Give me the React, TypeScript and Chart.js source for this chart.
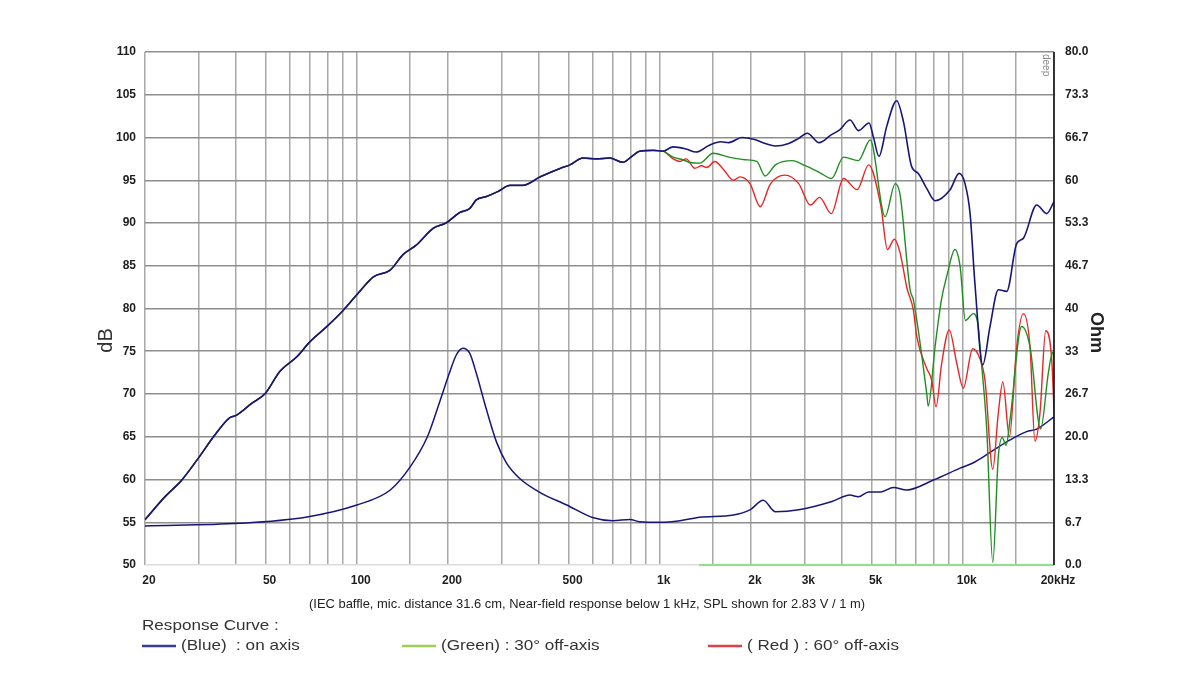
import { useEffect, useRef } from 'react';
import { Chart, registerables } from 'chart.js';

Chart.register(...registerables);

type Pt = [number, number];

// Below 1 kHz the three SPL curves coincide (near-field response)
const sharedLowSpl: Pt[] = [
  [20, 55.3], [23.3, 58.0], [26.4, 59.9], [30, 62.5], [34, 65.2], [38, 67.2], [40, 67.5],
  [45, 68.9], [50, 70.1], [55.6, 72.6], [63.6, 74.4], [70, 76.1], [79.7, 77.9], [90.3, 79.8],
  [100, 81.6], [113.5, 83.7], [129, 84.5], [142, 86.3], [157, 87.4], [179, 89.4], [197, 90.0],
  [218, 91.2], [236, 91.7], [248, 92.7], [268, 93.1], [293, 93.7], [320, 94.4], [353, 94.4],
  [403, 95.4], [470, 96.4], [505, 96.8], [558, 97.6], [618, 97.5], [683, 97.6], [756, 97.1],
  [806, 97.75], [858, 98.4], [949, 98.5], [1025, 98.4],
];

const blueHighSpl: Pt[] = [
  [1106, 98.9], [1222, 98.65], [1317, 98.3], [1457, 99.1], [1590, 99.5], [1690, 99.4],
  [1868, 100.0], [2040, 99.8], [2228, 99.3], [2407, 99.0], [2664, 99.3], [2874, 99.9],
  [3066, 100.5], [3358, 99.4], [3676, 100.3], [3922, 100.9], [4244, 102.05], [4530, 100.8],
  [4906, 101.7], [5066, 100.1], [5290, 97.8], [5610, 101.3], [6050, 104.3], [6370, 101.85],
  [6780, 96.6], [7130, 95.8], [7600, 94.05], [8100, 92.6], [9080, 93.9], [9730, 95.8],
  [10170, 94.6], [10570, 91.1], [10967, 82.9], [11640, 73.4], [12300, 77.9], [13100, 82.2],
  [13960, 82.0], [15060, 87.6], [15840, 88.2], [17540, 92.1], [18920, 91.1], [20000, 92.5],
];

const greenHighSpl: Pt[] = [
  [1106, 97.7], [1190, 97.4], [1270, 97.05], [1354, 97.0], [1500, 98.15], [1690, 97.7],
  [1915, 97.4], [2090, 97.2], [2228, 95.5], [2407, 96.8], [2737, 97.3], [3020, 96.7],
  [3370, 95.9], [3690, 95.2], [4040, 97.7], [4520, 97.3], [4950, 99.7], [5540, 90.75],
  [5985, 94.6], [6210, 93.3], [6700, 82.2], [6870, 81.0], [7600, 70.1], [7690, 68.6],
  [8100, 75.5], [8500, 81.0], [8870, 83.9], [9420, 86.9], [9800, 84.9], [10200, 78.6],
  [10840, 79.4], [11250, 77.9], [11400, 75.5], [12000, 65.8], [12560, 50.3], [13100, 62.7],
  [13500, 64.9], [13900, 64.0], [14320, 67.0], [15640, 77.9], [16670, 75.5], [18070, 65.9],
  [19150, 72.4], [19800, 74.9], [20000, 74.0],
];

const redHighSpl: Pt[] = [
  [1106, 97.5], [1165, 97.2], [1222, 97.5], [1305, 96.4], [1375, 96.7], [1428, 96.5],
  [1520, 97.2], [1620, 96.3], [1750, 95.0], [1840, 95.4], [1985, 94.6], [2145, 91.9],
  [2316, 94.55], [2590, 95.6], [2874, 94.6], [3140, 92.1], [3370, 93.0], [3680, 91.1],
  [4040, 95.2], [4480, 93.9], [4890, 96.8], [5370, 91.9], [5640, 86.9], [5950, 88.1],
  [6210, 86.5], [6540, 82.4], [6870, 79.8], [7050, 76.7], [7600, 73.0], [7900, 71.6],
  [8160, 68.5], [8520, 73.6], [9020, 77.5], [9550, 73.6], [10040, 70.7], [10780, 75.3],
  [11400, 74.1], [11840, 71.6], [12560, 61.2], [13100, 67.8], [13560, 71.4], [14250, 65.0],
  [15060, 75.5], [15840, 79.4], [16670, 75.5], [17300, 64.5], [17980, 67.8], [18780, 77.4],
  [19660, 74.0], [20000, 68.1],
];

const impedance: Pt[] = [
  [20, 6.1], [41, 6.5], [68.5, 7.5], [100, 9.36], [129, 11.7], [150, 15.3], [171, 20.0],
  [187, 25.2], [202, 29.9], [213, 32.75], [224, 33.8], [236, 33.0], [248, 29.9], [268, 24.2],
  [289, 19.2], [312, 15.9], [345, 13.5], [403, 11.3], [493, 9.36], [600, 7.4], [700, 6.9],
  [797, 7.1], [858, 6.75], [1000, 6.66], [1165, 6.9], [1354, 7.44], [1750, 7.8], [1985, 8.6],
  [2195, 10.1], [2407, 8.3], [2874, 8.6], [3700, 9.9], [4244, 10.9], [4520, 10.65],
  [4890, 11.4], [5370, 11.4], [5900, 12.1], [6530, 11.7], [8000, 13.25], [9800, 15.1],
  [11000, 16.1], [12630, 17.9], [14320, 19.5], [16250, 20.8], [17540, 21.2], [20000, 23.1],
];

const zeroOhmLine: Pt[] = [[1346, 0], [20000, 0]];

const xGridValues = [
  20, 30, 40, 50, 60, 70, 80, 90, 100, 150, 200, 300, 400, 500, 600, 700, 800, 900,
  1000, 1500, 2000, 3000, 4000, 5000, 6000, 7000, 8000, 9000, 10000, 15000, 20000,
];
const xLabelValues = [20, 50, 100, 200, 500, 1000, 2000, 3000, 5000, 10000, 20000];
const xLabelTexts = ['20', '50', '100', '200', '500', '1k', '2k', '3k', '5k', '10k', '20kHz'];

const ohmTickValues = [0, 6.667, 13.333, 20, 26.667, 33.333, 40, 46.667, 53.333, 60, 66.667, 73.333, 80];
const ohmTickLabels = ['0.0', '6.7', '13.3', '20.0', '26.7', '33', '40', '46.7', '53.3', '60', '66.7', '73.3', '80.0'];

const captionText = '(IEC baffle, mic. distance 31.6 cm, Near-field response below 1 kHz, SPL shown for 2.83 V / 1 m)';
const legendTitle = 'Response Curve :';
const legendItems = [
  { text: '(Blue)  : on axis', color: '#3a3a98' },
  { text: '(Green) : 30\u00b0 off-axis', color: '#9ecf55' },
  { text: '( Red ) : 60\u00b0 off-axis', color: '#e0404a' },
];

const NARROW = '"Liberation Sans Narrow", "Arial Narrow", "Liberation Sans", Arial, sans-serif';
const SANS = '"Liberation Sans", Arial, sans-serif';

const toXY = (pts: Pt[]) => pts.map(([x, y]) => ({ x, y }));

const drawStretched = (ctx: CanvasRenderingContext2D, text: string, x: number, y: number, sx: number) => {
  ctx.save();
  ctx.translate(x, y);
  ctx.scale(sx, 1);
  ctx.fillText(text, 0, 0);
  ctx.restore();
};

const textPlugin = {
  id: 'extraTexts',
  afterDraw(chart: any) {
    const ctx: CanvasRenderingContext2D = chart.ctx;
    const { left, right, top, bottom } = chart.chartArea;
    ctx.save();
    // right border (black)
    ctx.strokeStyle = '#111';
    ctx.lineWidth = 1.6;
    ctx.beginPath();
    ctx.moveTo(right, top);
    ctx.lineTo(right, bottom);
    ctx.stroke();

    // watermark
    ctx.save();
    ctx.translate(right - 8, top + 2);
    ctx.rotate(Math.PI / 2);
    ctx.fillStyle = '#8a8a8a';
    ctx.font = `10px ${SANS}`;
    ctx.textAlign = 'left';
    ctx.textBaseline = 'middle';
    ctx.fillText('deep', 0, 0);
    ctx.restore();

    // dB title
    ctx.save();
    ctx.translate(106, (top + bottom) / 2 + 32);
    ctx.rotate(-Math.PI / 2);
    ctx.fillStyle = '#333';
    ctx.font = `20px ${SANS}`;
    ctx.textAlign = 'center';
    ctx.textBaseline = 'middle';
    ctx.fillText('dB', 0, 0);
    ctx.restore();

    // Ohm title
    ctx.save();
    ctx.translate(1096, (top + bottom) / 2 + 24);
    ctx.rotate(Math.PI / 2);
    ctx.fillStyle = '#222';
    ctx.font = `bold 18px ${SANS}`;
    ctx.textAlign = 'center';
    ctx.textBaseline = 'middle';
    ctx.fillText('Ohm', 0, 0);
    ctx.restore();

    // caption
    ctx.fillStyle = '#222';
    ctx.font = `13px ${NARROW}`;
    ctx.textAlign = 'center';
    ctx.textBaseline = 'middle';
    ctx.fillText(captionText, 587, 604, 556);

    // legend
    ctx.fillStyle = '#333';
    ctx.font = `15px ${SANS}`;
    ctx.textAlign = 'left';
    drawStretched(ctx, legendTitle, left - 3, 626, 1.14);
    const sampleX = [142, 402, 708];
    legendItems.forEach((it, i) => {
      ctx.strokeStyle = it.color;
      ctx.lineWidth = 2.5;
      ctx.beginPath();
      ctx.moveTo(sampleX[i], 646);
      ctx.lineTo(sampleX[i] + 34, 646);
      ctx.stroke();
      ctx.fillStyle = '#333';
      drawStretched(ctx, it.text, sampleX[i] + 39, 646, 1.14);
    });
    ctx.restore();
  },
};

export default function App() {
  const canvasRef = useRef<HTMLCanvasElement | null>(null);

  useEffect(() => {
    if (!canvasRef.current) return;
    const tickFont = { family: NARROW, size: 12, weight: 'bold' as const };
    const chart = new Chart(canvasRef.current, {
      type: 'line',
      data: {
        datasets: [
          {
            label: 'SPL on axis',
            data: toXY([...sharedLowSpl, ...blueHighSpl]),
            borderColor: '#16167a',
            borderWidth: 1.6,
            yAxisID: 'y',
          },
          {
            label: 'SPL 30\u00b0 off-axis',
            data: toXY([...sharedLowSpl, ...greenHighSpl]),
            borderColor: '#1f8f1f',
            borderWidth: 1.4,
            yAxisID: 'y',
          },
          {
            label: 'SPL 60\u00b0 off-axis',
            data: toXY([...sharedLowSpl, ...redHighSpl]),
            borderColor: '#ee2424',
            borderWidth: 1.4,
            yAxisID: 'y',
          },
          {
            label: 'Impedance',
            data: toXY(impedance),
            borderColor: '#16167a',
            borderWidth: 1.5,
            yAxisID: 'y1',
          },
          {
            label: 'Impedance 30\u00b0',
            data: toXY(zeroOhmLine),
            borderColor: '#8fe08f',
            borderWidth: 2,
            yAxisID: 'y1',
            clip: false as any,
          },
        ],
      },
      options: {
        animation: false,
        responsive: false,
        devicePixelRatio: window.devicePixelRatio || 1,
        elements: {
          point: { radius: 0 },
          line: { cubicInterpolationMode: 'monotone', fill: false },
        },
        layout: { padding: { top: 52, left: 0, right: 0, bottom: 0 } },
        plugins: {
          legend: { display: false },
          tooltip: { enabled: false },
        },
        scales: {
          x: {
            type: 'logarithmic',
            min: 20,
            max: 20000,
            afterBuildTicks: (s: any) => {
              s.ticks = xGridValues.map((v) => ({ value: v }));
            },
            afterFit: (s: any) => {
              s.height = 135;
            },
            grid: { color: '#a8a8a8', lineWidth: 1.5, drawTicks: false },
            border: { display: false },
            ticks: {
              autoSkip: false,
              maxRotation: 0,
              minRotation: 0,
              padding: 8,
              labelOffset: 4,
              color: '#1e1e1e',
              font: tickFont,
              callback: (v: any) => {
                const i = xLabelValues.indexOf(Number(v));
                return i >= 0 ? xLabelTexts[i] : '';
              },
            },
          },
          y: {
            position: 'left',
            min: 50,
            max: 110,
            afterFit: (s: any) => {
              s.width = 145;
            },
            grid: {
              color: (c: any) => (c.tick && c.tick.value === 50 ? '#dcdcdc' : '#8e8e8e'),
              lineWidth: 1.5,
              drawTicks: false,
            },
            border: { display: false },
            ticks: { stepSize: 5, padding: 9, color: '#1e1e1e', font: tickFont },
          },
          y1: {
            position: 'right',
            min: 0,
            max: 80,
            afterBuildTicks: (s: any) => {
              s.ticks = ohmTickValues.map((v) => ({ value: v }));
            },
            afterFit: (s: any) => {
              s.width = 146;
            },
            grid: { display: false, drawTicks: false },
            border: { display: false },
            ticks: {
              padding: 11,
              color: '#1e1e1e',
              font: tickFont,
              callback: (_v: any, i: number) => ohmTickLabels[i],
            },
          },
        },
      } as any,
      plugins: [textPlugin],
    });
    return () => chart.destroy();
  }, []);

  return (
    <div style={{ position: 'absolute', left: 0, top: 0, width: 1200, height: 700, background: '#fff' }}>
      <canvas ref={canvasRef} width={1200} height={700} style={{ width: 1200, height: 700 }} />
    </div>
  );
}
